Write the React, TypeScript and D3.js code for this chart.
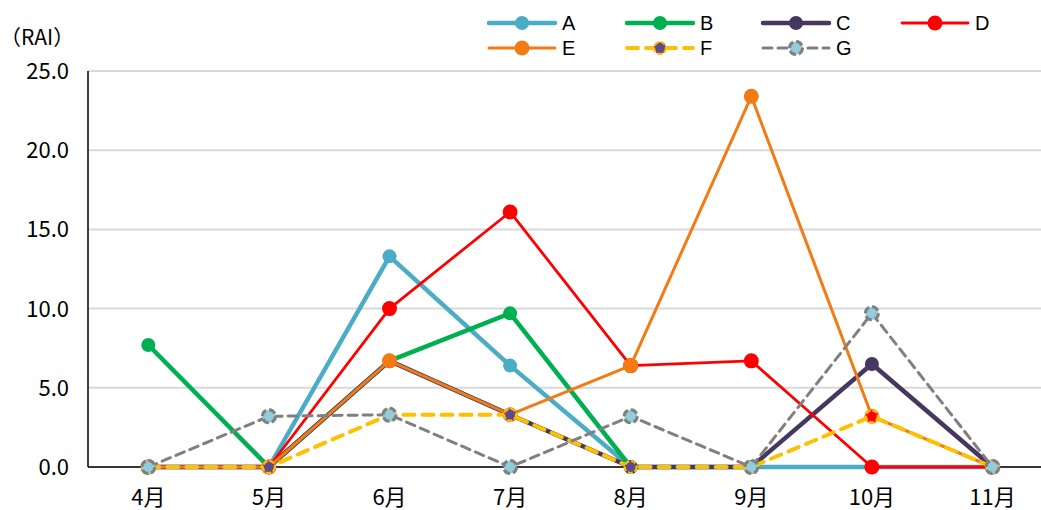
import React from "react";
import * as d3 from "d3";

const months = ["4月", "5月", "6月", "7月", "8月", "9月", "10月", "11月"];
const yTicks = [0, 5, 10, 15, 20, 25];

const seriesA: (number | null)[] = [0, 0, 13.3, 6.4, 0, 0, 0, 0];
const seriesB: (number | null)[] = [7.7, 0, 6.7, 9.7, 0, null, null, null];
const seriesC: (number | null)[] = [0, 0, 6.7, 3.3, 0, 0, 6.5, 0];
const seriesD: (number | null)[] = [0, 0, 10.0, 16.1, 6.4, 6.7, 0, 0];
const seriesE: (number | null)[] = [0, 0, 6.7, 3.3, 6.4, 23.4, 3.2, 0];
const seriesF: (number | null)[] = [0, 0, 3.3, 3.3, 0, 0, 3.2, 0];
const seriesG: (number | null)[] = [0, 3.2, 3.3, 0, 3.2, 0, 9.7, 0];

type Style = {
  name: string;
  values: (number | null)[];
  color: string;
  width: number;
  dash?: string;
  r: number;
  fill: string;
  stroke: string;
  strokeWidth: number;
  markerDash?: string;
};

const series: Style[] = [
  { name: "A", values: seriesA, color: "#4BACC6", width: 4.5, r: 7, fill: "#4BACC6", stroke: "#4BACC6", strokeWidth: 0 },
  { name: "B", values: seriesB, color: "#00B050", width: 4.5, r: 7, fill: "#00B050", stroke: "#00B050", strokeWidth: 0 },
  { name: "C", values: seriesC, color: "#45375F", width: 4.5, r: 7, fill: "#45375F", stroke: "#45375F", strokeWidth: 0 },
  { name: "D", values: seriesD, color: "#FF0000", width: 2.8, r: 7.5, fill: "#FF0000", stroke: "#FF0000", strokeWidth: 0 },
  { name: "E", values: seriesE, color: "#F47A14", width: 3, r: 7.5, fill: "#F47A14", stroke: "#F47A14", strokeWidth: 0 },
  { name: "F", values: seriesF, color: "#FFC000", width: 4, dash: "11 8", r: 6, fill: "#5F4B8B", stroke: "#FFC000", strokeWidth: 2.2, markerDash: "5 2" },
  { name: "G", values: seriesG, color: "#808080", width: 3, dash: "9 6", r: 6.5, fill: "#92CDDC", stroke: "#808080", strokeWidth: 3, markerDash: "7 3" },
];

// F's marker at 10月 carries a red fill
const markerFill = (s: Style, i: number) =>
  s.name === "F" && months[i] === "10月" ? "#FF0000" : s.fill;

const W = 1041;
const H = 510;
const left = 88;
const top = 71;
const bottom = 467;
const step = 120.6;

const x = d3.scalePoint<string>().domain(months).range([left + step / 2, left + step / 2 + step * (months.length - 1)]);
const y = d3.scaleLinear().domain([0, 25]).range([bottom, top]);

const font = "'Noto Sans CJK JP', 'Liberation Sans', sans-serif";
const latin = "'Liberation Sans', Arial, sans-serif";

const legendCols = [489, 627, 763, 902];
const legendRows = [23, 48];

export default function App() {
  const line = d3
    .line<number | null>()
    .defined((v) => v !== null)
    .x((_, i) => x(months[i]) as number)
    .y((v) => y(v as number));

  return (
    <svg width={W} height={H} style={{ position: "absolute", left: 0, top: 0, background: "#fff", fontFamily: font }}>
      {yTicks.map((t) => (
        <line key={"g" + t} x1={left} x2={W} y1={y(t)} y2={y(t)} stroke="#D9D9D9" strokeWidth={2} />
      ))}
      <line x1={left} x2={W} y1={y(0)} y2={y(0)} stroke="#000" strokeWidth={1.5} />
      <line x1={left} x2={left} y1={top} y2={y(0)} stroke="#000" strokeWidth={1.5} />
      {yTicks.map((t) => (
        <text key={"t" + t} x={69} y={y(t) + 8} textAnchor="end" style={{ fontSize: "22px" }} fill="#000">
          {t.toFixed(1)}
        </text>
      ))}
      <text x={0} y={45} style={{ fontSize: "21px" }} fill="#000">（RAI）</text>
      {months.map((m) => (
        <text key={m} x={x(m) as number} y={505} textAnchor="middle" style={{ fontSize: "22px" }} fill="#000">
          {m}
        </text>
      ))}
      {series.map((s) => (
        <g key={s.name}>
          <path d={line(s.values) || ""} fill="none" stroke={s.color} strokeWidth={s.width} strokeDasharray={s.dash} strokeLinejoin="round" strokeLinecap="round" />
          {s.values.map((v, i) =>
            v === null ? null : (
              <circle key={i} cx={x(months[i]) as number} cy={y(v)} r={s.r} fill={markerFill(s, i)} stroke={s.stroke} strokeWidth={s.strokeWidth} strokeDasharray={s.markerDash} />
            )
          )}
        </g>
      ))}
      {series.map((s, k) => {
        const lx = legendCols[k % 4];
        const ly = legendRows[Math.floor(k / 4)];
        return (
          <g key={"l" + s.name}>
            <line x1={lx} x2={lx + 66} y1={ly} y2={ly} stroke={s.color} strokeWidth={s.width} strokeDasharray={s.dash} strokeLinecap="round" />
            <circle cx={lx + 33} cy={ly} r={s.r} fill={s.fill} stroke={s.stroke} strokeWidth={s.strokeWidth} strokeDasharray={s.markerDash} />
            <text x={lx + 73} y={ly + 7} style={{ fontSize: "20px", fontFamily: latin }} fill="#000">{s.name}</text>
          </g>
        );
      })}
    </svg>
  );
}
